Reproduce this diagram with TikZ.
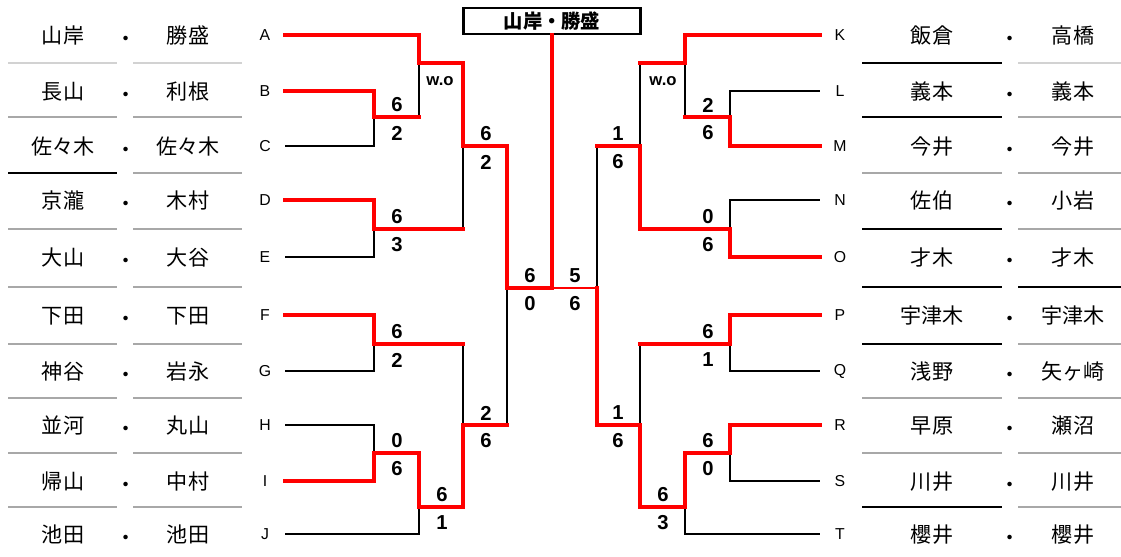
\documentclass[tikz,border=0pt]{standalone}
\usepackage{fontspec}
\setmainfont{Liberation Sans}
\newfontfamily\jp{Noto Sans CJK JP}
\usepackage{tikz}

\definecolor{sep}{HTML}{A8A8A8}
\definecolor{seplight}{HTML}{D2D2D2}

\tikzset{
  player/.style={font=\jp\fontsize{12}{14}\selectfont, inner sep=0pt, text height=11pt, text depth=1pt},
  seed/.style={font=\fontsize{9}{11}\selectfont, minimum width=0.8cm, inner sep=0pt},
  score/.style={font=\bfseries\fontsize{11.5}{13}\selectfont, inner sep=0pt},
  wo/.style={font=\bfseries\fontsize{9.5}{11}\selectfont, inner sep=0pt},
  win/.style={draw=red, line width=2.3pt, line cap=rect},
  lose/.style={draw=black, line width=0.75pt},
  thinred/.style={draw=red, line width=0.9pt},
  sepline/.style={line width=0.8pt},
  champbox/.style={draw, line width=1.7pt, minimum width=3.54cm, minimum height=0.52cm,
    inner sep=0pt, font=\jp\bfseries\fontsize{11}{13}\selectfont}
}

\begin{document}
\begin{tikzpicture}[x=0.02cm, y=-0.02cm]
    \useasboundingbox (0,0) rectangle (1121,557);
    % players
    \foreach \l/\y/\a/\b in {A/35/山岸/勝盛, B/91/長山/利根, C/146/佐々木/佐々木, D/200/京瀧/木村,
      E/257/大山/大谷, F/315/下田/下田, G/371/神谷/岩永, H/425/並河/丸山, I/481/帰山/中村, J/534/池田/池田}
    {
      \node[player] (\l1) at (63,\y) {\a};
      \node[player] (\l0) at (126,\y+3) {・};
      \node[player] (\l2) at (188,\y) {\b};
      \node[seed] (\l) at (265,\y) {\l};
    }
    \foreach \l/\y/\a/\b in {K/35/飯倉/高橋, L/91/義本/義本, M/146/今井/今井, N/200/佐伯/小岩,
      O/257/才木/才木, P/315/宇津木/宇津木, Q/371/浅野/矢ヶ崎, R/425/早原/瀬沼, S/481/川井/川井, T/534/櫻井/櫻井}
    {
      \node[seed] (\l) at (840,\y) {\l};
      \node[player] (\l1) at (932,\y) {\a};
      \node[player] (\l0) at (1010,\y+3) {・};
      \node[player] (\l2) at (1073,\y) {\b};
    }
    % rules between the rows
    \foreach \y/\p/\q/\r/\s in {63/seplight/seplight/black/seplight, 117/sep/sep/black/sep,
      173/black/sep/sep/sep, 229/sep/sep/black/sep, 287/sep/sep/black/black, 344/sep/sep/black/sep,
      398/sep/sep/sep/sep, 453/sep/sep/sep/sep, 507/sep/sep/black/sep}
    {
      \draw[sepline, draw=\p] (8,\y) -- (117,\y);
      \draw[sepline, draw=\q] (133,\y) -- (242,\y);
      \draw[sepline, draw=\r] (862,\y) -- (1002,\y);
      \draw[sepline, draw=\s] (1018,\y) -- (1121,\y);
    }

    \node[champbox] (champ) at (552,21) {山岸・勝盛};

    % matches
    \coordinate (m1) at (374,117);
    \coordinate (m2) at (419,63);
    \coordinate (m3) at (374,229);
    \coordinate (m4) at (463,146);
    \coordinate (m5) at (374,344);
    \coordinate (m6) at (374,453);
    \coordinate (m7) at (419,507);
    \coordinate (m8) at (463,425);
    \coordinate (m9) at (507,288);
    \coordinate (n1) at (730,117);
    \coordinate (n2) at (685,63);
    \coordinate (n3) at (730,229);
    \coordinate (n4) at (640,146);
    \coordinate (n5) at (730,344);
    \coordinate (n6) at (730,453);
    \coordinate (n7) at (685,507);
    \coordinate (n8) at (640,425);
    \coordinate (n9) at (597,288);

    \foreach \c/\p in {C/m1, E/m3, G/m5, H/m6, J/m7, L/n1, N/n3, Q/n5, S/n6, T/n7}
      \draw[lose] (\c) -| (\p);
    \foreach \c/\p in {m1/m2, m3/m4, m5/m8, m8/m9, n1/n2, n2/n4, n5/n8, n4/n9}
    {
      \draw[lose] (\c -| \p) -- (\p);
      \draw[win] (\c) -- (\c -| \p);
    }
    \foreach \c/\p in {A/m2, B/m1, D/m3, F/m5, I/m6, m6/m7, m7/m8, m2/m4, m4/m9,
      K/n2, M/n1, O/n3, n3/n4, P/n5, R/n6, n6/n7, n7/n8, n8/n9}
      \draw[win] (\c) -| (\p);
    \draw[thinred] (n9) -- (n9 -| champ.south);
    \draw[win] (m9) -| (champ.south);

    % scores
    \foreach \m/\t/\b in {m1/6/2, m3/6/3, m4/6/2, m5/6/2, m6/0/6, m7/6/1, m8/2/6, m9/6/0}
    {
      \node[score] (t\m) at ([shift={(23,-12)}]\m) {\t};
      \node[score] (b\m) at ([shift={(23,16)}]\m) {\b};
    }
    \foreach \m/\t/\b in {n1/2/6, n3/0/6, n4/1/6, n5/6/1, n6/6/0, n7/6/3, n8/1/6, n9/5/6}
    {
      \node[score] (t\m) at ([shift={(-22,-12)}]\m) {\t};
      \node[score] (b\m) at ([shift={(-22,16)}]\m) {\b};
    }
    \node[wo] (wm2) at ([shift={(21,18)}]m2) {w.o};
    \node[wo] (wn2) at ([shift={(-22,18)}]n2) {w.o};
\end{tikzpicture}
\end{document}
